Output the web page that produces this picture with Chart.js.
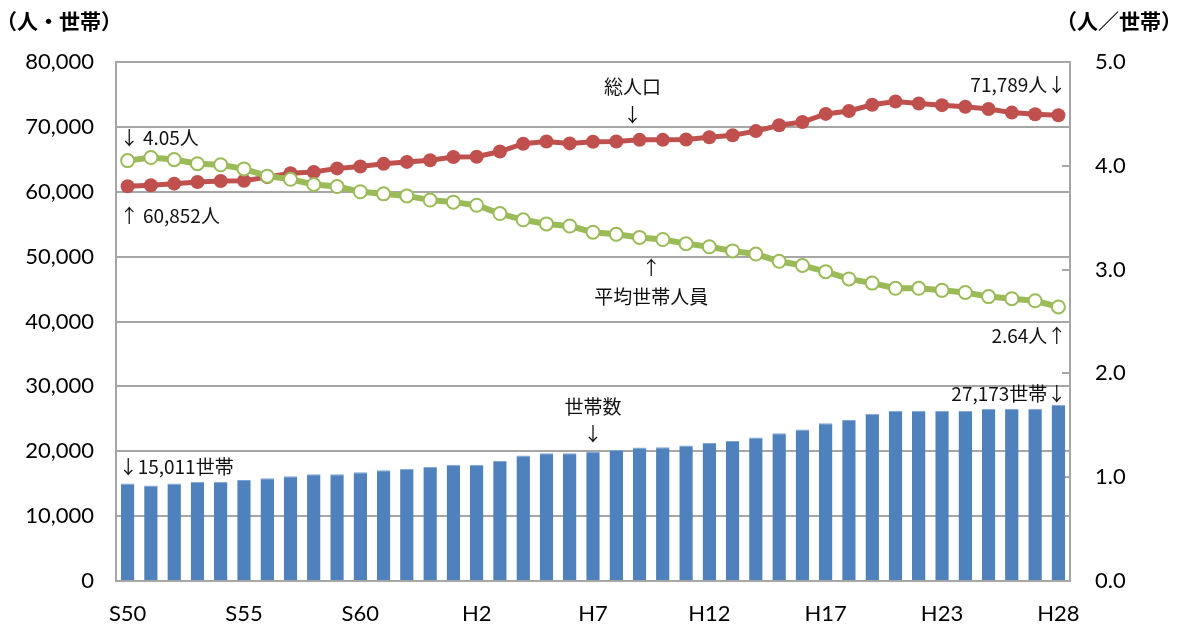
<!DOCTYPE html>
<html>
<head>
<meta charset="utf-8">
<script src="https://cdn.jsdelivr.net/npm/chart.js@4.4.1/dist/chart.umd.min.js"></script>
<style>
  html, body { margin: 0; padding: 0; background: #fff; }
  #wrap { width: 1180px; height: 632px; position: relative; }
</style>
</head>
<body>
<div id="wrap"><canvas id="c" width="1180" height="632"></canvas></div>
<script>
// 年次（昭和50年〜平成28年）
const years = [
  'S50','S51','S52','S53','S54','S55','S56','S57','S58','S59','S60','S61','S62','S63',
  'H1','H2','H3','H4','H5','H6','H7','H8','H9','H10','H11','H12','H13','H14','H15','H16','H17',
  'H18','H19','H20','H21','H23','H24','H25','H26','H27','H28'
];
// 目盛に表示する年
const tickYears = ['S50','S55','S60','H2','H7','H12','H17','H23','H28'];

// 世帯数（世帯）
const households = [
  15011, 14720, 15030, 15280, 15280, 15580, 15840, 16140, 16450, 16450,
  16750, 17060, 17310, 17610, 17920, 17920, 18480, 19340, 19700, 19700,
  19950, 20200, 20580, 20620, 20900, 21270, 21590, 22120, 22760, 23350,
  24300, 24830, 25780, 26250, 26250, 26250, 26250, 26550, 26550, 26550,
  27173
];
// 総人口（人）
const population = [
  60852, 61000, 61250, 61500, 61650, 61700, 62250, 62850, 63050, 63600,
  63900, 64300, 64600, 64850, 65350, 65400, 66200, 67400, 67750, 67450,
  67700, 67750, 68000, 68000, 68050, 68400, 68700, 69350, 70250, 70750,
  72000, 72450, 73400, 73900, 73600, 73350, 73100, 72750, 72200, 71950,
  71789
];
// 平均世帯人員（人／世帯）
const avgMembers = [
  4.05, 4.08, 4.06, 4.02, 4.01, 3.97, 3.90, 3.87, 3.82, 3.80,
  3.75, 3.73, 3.71, 3.67, 3.65, 3.62, 3.54, 3.48, 3.44, 3.42,
  3.36, 3.34, 3.31, 3.29, 3.25, 3.22, 3.18, 3.15, 3.08, 3.04,
  2.98, 2.91, 2.87, 2.82, 2.82, 2.80, 2.78, 2.74, 2.72, 2.70,
  2.64
];

const fmt = n => n.toLocaleString('en-US');
const last = years.length - 1;

const AXIS_FONT = { family: 'Lato, "Noto Sans", sans-serif', size: 22 };
const JP_FONT = '"Noto Sans CJK JP", "Noto Sans", sans-serif';
const GRID = '#a6a6a6';

// 軸単位の見出し
const unitTitles = {
  id: 'unitTitles',
  afterDraw(chart) {
    const ctx = chart.ctx;
    ctx.save();
    ctx.fillStyle = '#000';
    ctx.font = 'bold 21px ' + JP_FONT;
    ctx.textBaseline = 'middle';
    ctx.textAlign = 'left';
    ctx.fillText('（人・世帯）', -4, 21);
    ctx.textAlign = 'right';
    ctx.fillText('（人／世帯）', 1182, 21);
    ctx.restore();
  }
};

// 右軸の内向き目盛線
const innerTicks = {
  id: 'innerTicks',
  beforeDatasetsDraw(chart) {
    const ctx = chart.ctx, y2 = chart.scales.y2, r = chart.chartArea.right;
    ctx.save();
    ctx.strokeStyle = GRID;
    ctx.lineWidth = 2;
    for (let v = 0; v <= 5; v++) {
      const y = Math.round(y2.getPixelForValue(v));
      ctx.beginPath();
      ctx.moveTo(r - 8, y);
      ctx.lineTo(r, y);
      ctx.stroke();
    }
    ctx.restore();
  }
};

// 系列の注記
const notes = {
  id: 'notes',
  afterDraw(chart) {
    const ctx = chart.ctx;
    const xs = chart.scales.x, yl = chart.scales.y, yr = chart.scales.y2;
    const step = xs.getPixelForValue(1) - xs.getPixelForValue(0);
    const xAt = i => xs.getPixelForValue(Math.floor(i)) + (i % 1) * step;
    const put = (text, x, y, align) => {
      ctx.textAlign = align;
      ctx.fillText(text, x, y);
    };
    ctx.save();
    ctx.fillStyle = '#111';
    ctx.font = '19px ' + JP_FONT;
    ctx.textBaseline = 'middle';

    const gy0 = yr.getPixelForValue(avgMembers[0]);
    put('↓ ' + avgMembers[0].toFixed(2) + '人', xAt(0) - 8, gy0 - 23, 'left');
    const ry0 = yl.getPixelForValue(population[0]);
    put('↑ ' + fmt(population[0]) + '人', xAt(0) - 8, ry0 + 30, 'left');

    const rMid = yl.getPixelForValue(population[22]);
    put('総人口', xAt(21.7), rMid - 53, 'center');
    put('↓', xAt(21.7), rMid - 25, 'center');

    const gMid = yr.getPixelForValue((avgMembers[22] + avgMembers[23]) / 2);
    put('↑', xAt(22.5), gMid + 29, 'center');
    put('平均世帯人員', xAt(22.5), gMid + 58, 'center');

    const xr = xAt(last) + 8;
    put(fmt(population[last]) + '人↓', xr, yl.getPixelForValue(population[last]) - 30, 'right');
    put(avgMembers[last].toFixed(2) + '人↑', xr, yr.getPixelForValue(avgMembers[last]) + 29, 'right');
    put(fmt(households[last]) + '世帯↓', xr, yl.getPixelForValue(households[last]) - 11, 'right');

    const bMid = yl.getPixelForValue(households[20]);
    put('世帯数', xAt(20), bMid - 45, 'center');
    put('↓', xAt(20), bMid - 18, 'center');

    put('↓' + fmt(households[0]) + '世帯', xAt(0) - 9, yl.getPixelForValue(households[0]) - 17, 'left');
    ctx.restore();
  }
};

new Chart(document.getElementById('c'), {
  data: {
    labels: years,
    datasets: [
      {
        type: 'line',
        label: '平均世帯人員',
        data: avgMembers,
        yAxisID: 'y2',
        borderColor: '#9BBB59',
        borderWidth: 6,
        pointRadius: 6.5,
        pointBorderWidth: 2,
        pointBackgroundColor: '#ffffff',
        pointBorderColor: '#9BBB59',
        tension: 0,
        order: 1
      },
      {
        type: 'line',
        label: '総人口',
        data: population,
        yAxisID: 'y',
        borderColor: '#C0504D',
        borderWidth: 5,
        pointRadius: 7,
        pointBorderWidth: 0,
        pointBackgroundColor: '#C0504D',
        pointBorderColor: '#C0504D',
        tension: 0,
        order: 2
      },
      {
        type: 'bar',
        label: '世帯数',
        data: households,
        yAxisID: 'y',
        backgroundColor: '#4F81BD',
        borderColor: '#7FA3D2',
        borderWidth: { top: 1, left: 0, right: 0, bottom: 0 },
        categoryPercentage: 1,
        barPercentage: 0.58,
        order: 3
      }
    ]
  },
  options: {
    responsive: false,
    devicePixelRatio: 1,
    animation: false,
    layout: { padding: { top: 62, left: 0, right: 0, bottom: 0 } },
    plugins: {
      legend: { display: false },
      tooltip: { enabled: false },
      title: { display: false }
    },
    scales: {
      x: {
        type: 'category',
        offset: true,
        grid: { display: false, drawTicks: false },
        border: { display: true, color: GRID, width: 2 },
        ticks: {
          autoSkip: false,
          maxRotation: 0,
          minRotation: 0,
          padding: 20,
          color: '#000',
          font: AXIS_FONT,
          callback: (v, i) => tickYears.includes(years[i]) ? years[i] : ''
        },
        afterFit: s => { s.height = 51; }
      },
      y: {
        position: 'left',
        min: 0,
        max: 80000,
        grid: { color: GRID, lineWidth: 2, drawTicks: false },
        border: { display: true, color: GRID, width: 2 },
        ticks: {
          stepSize: 10000,
          padding: 22,
          color: '#000',
          font: AXIS_FONT,
          callback: v => fmt(v)
        },
        afterFit: s => { s.width = 116; }
      },
      y2: {
        position: 'right',
        min: 0,
        max: 5,
        grid: { drawOnChartArea: false, drawTicks: false },
        border: { display: true, color: GRID, width: 2 },
        ticks: {
          stepSize: 1,
          padding: 25,
          color: '#000',
          font: AXIS_FONT,
          callback: v => v.toFixed(1)
        },
        afterFit: s => { s.width = 110; }
      }
    }
  },
  plugins: [innerTicks, notes, unitTitles]
});
</script>
</body>
</html>
